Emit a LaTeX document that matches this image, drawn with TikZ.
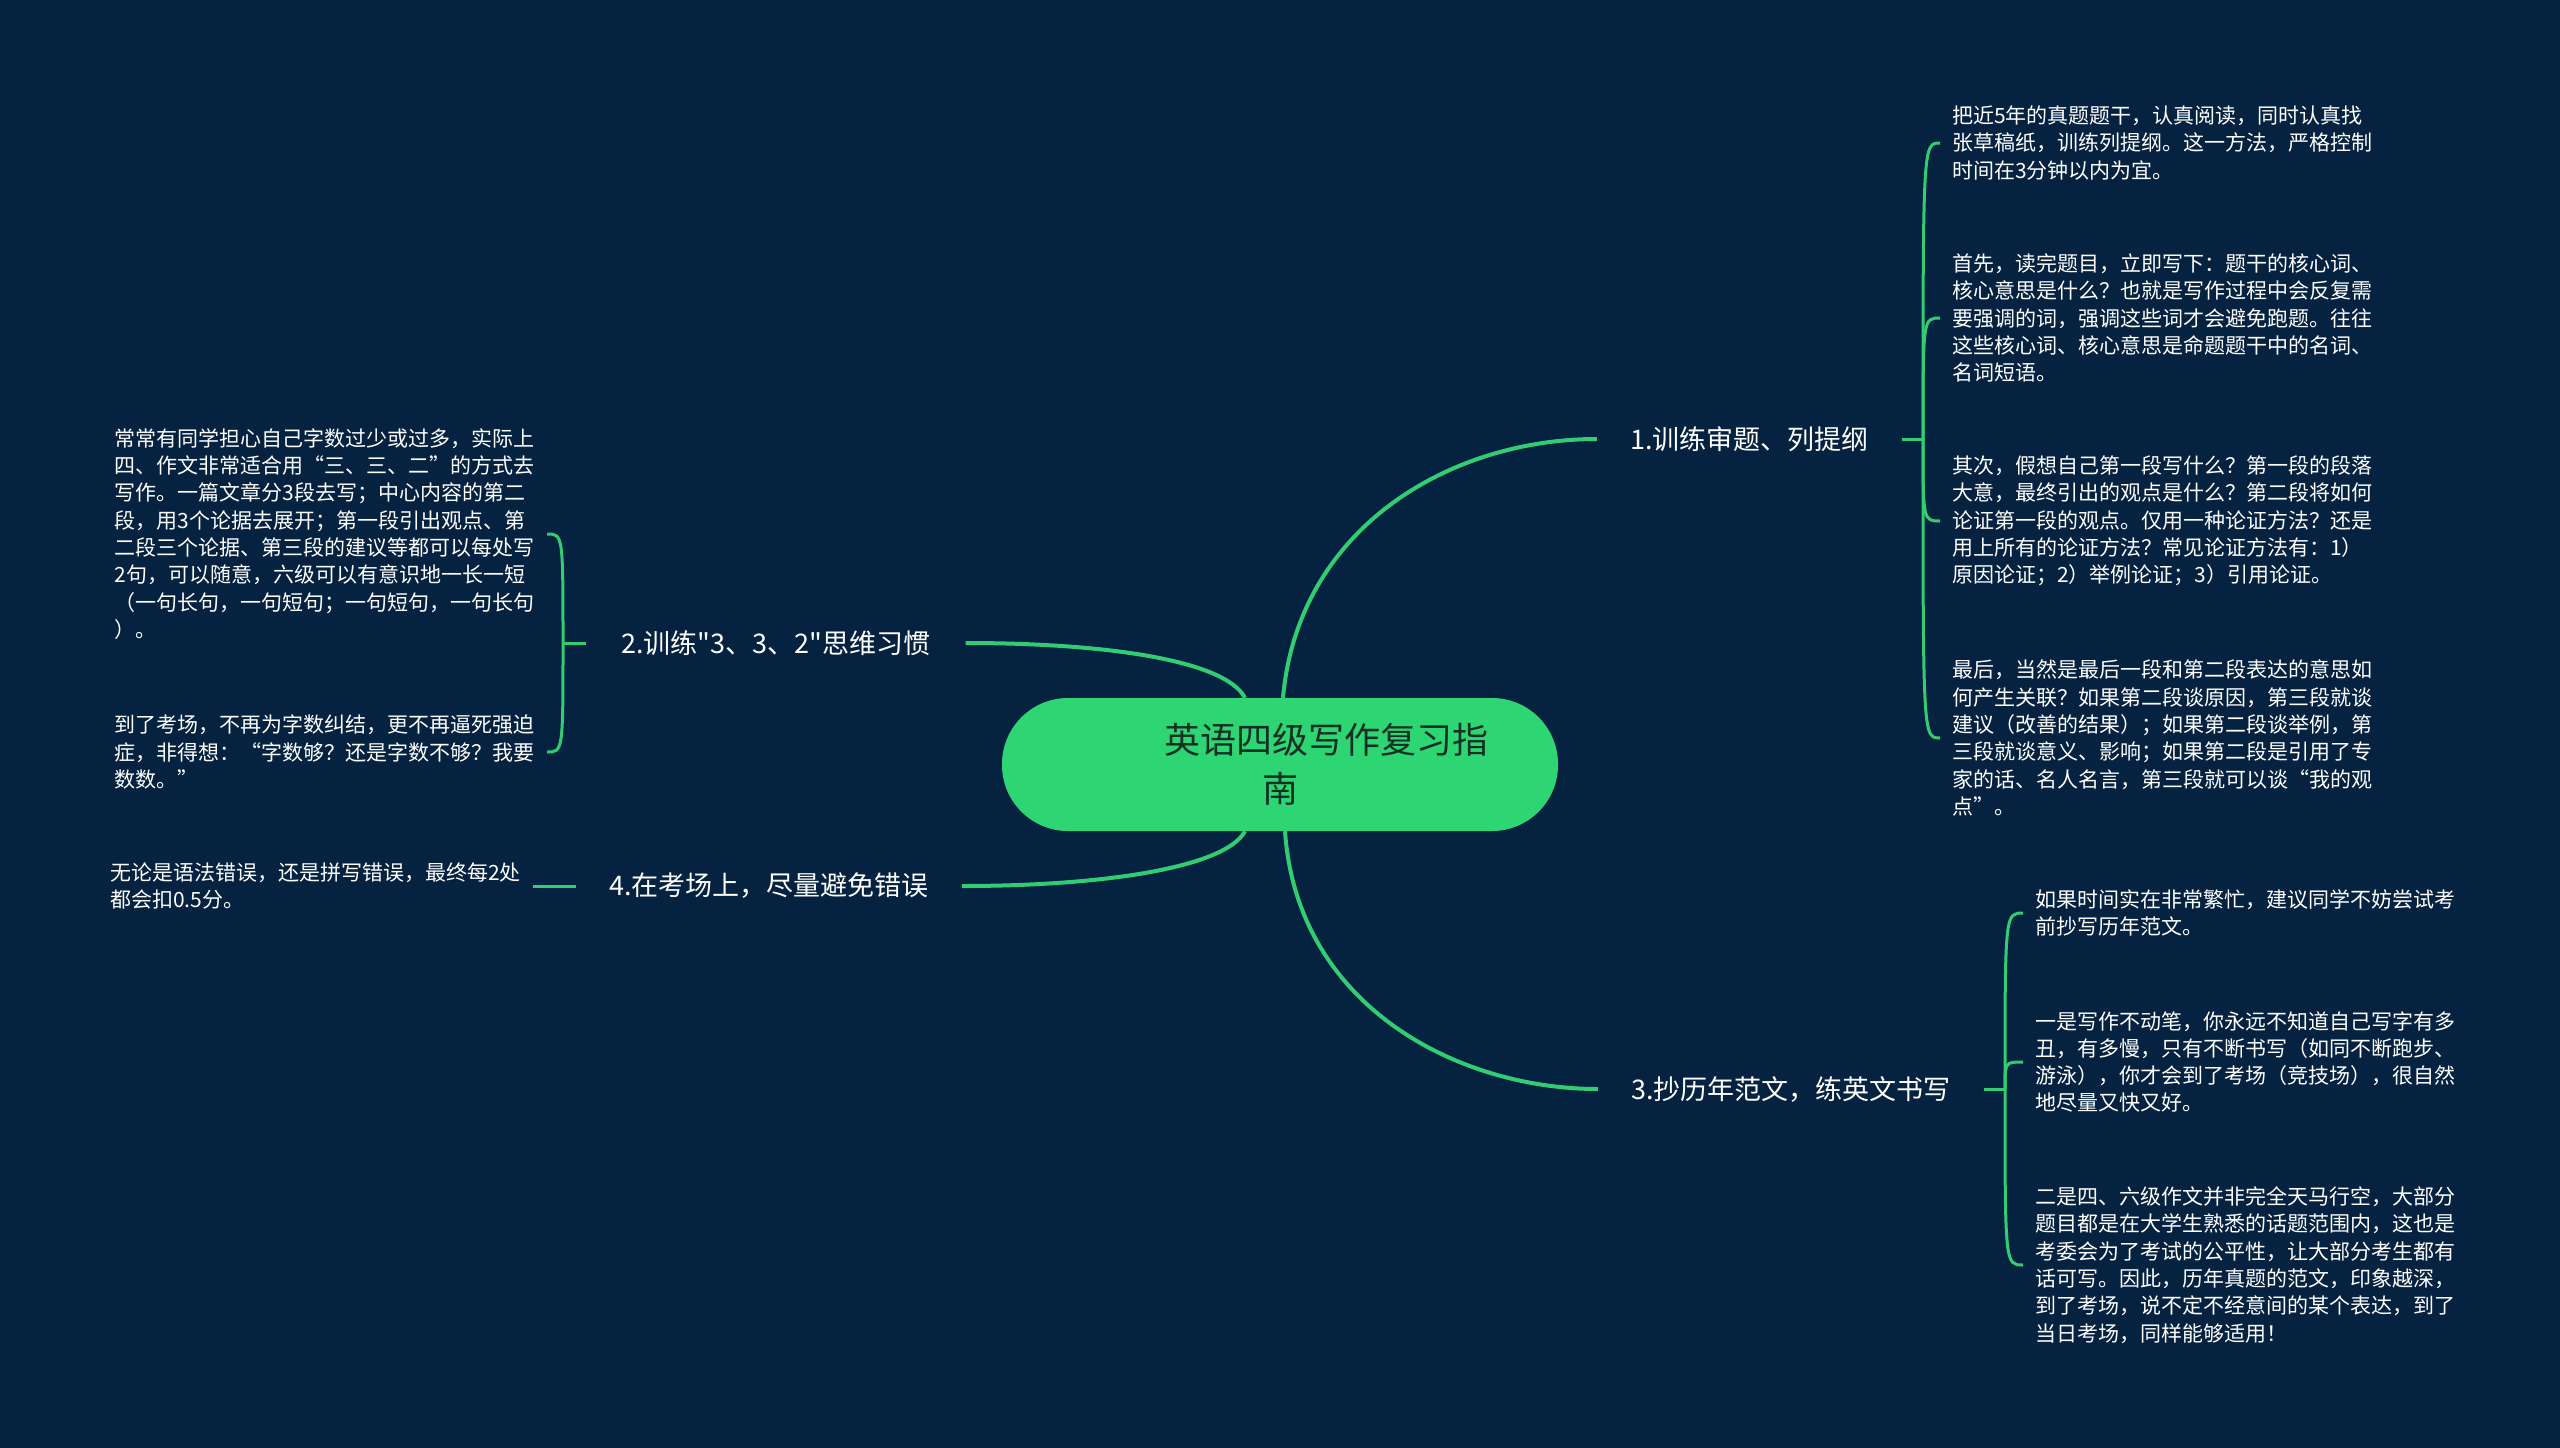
\documentclass[tikz,border=0pt]{standalone}
\usepackage{fontspec}
\setmainfont{Noto Sans CJK SC}
\newfontfamily\plainfont{Noto Sans CJK SC}
\definecolor{bgc}{RGB}{5,34,64}
\definecolor{grn}{RGB}{46,213,115}
\definecolor{lnc}{RGB}{50,205,115}
\definecolor{rtxt}{RGB}{20,48,36}
\begin{document}
\begin{tikzpicture}[x=1pt,y=-1pt,
  rootbox/.style={draw=none,fill=grn,rounded corners=66pt,minimum width=556pt,minimum height=133pt,
    inner xsep=0pt,inner ysep=0pt,text width=556pt,align=left,text=rtxt,font=\fontsize{36}{49}\selectfont},
  lab/.style={inner sep=0pt,text=white,font=\fontsize{27}{33}\selectfont},
  leaf/.style={inner xsep=12pt,inner ysep=0pt,text=white,align=left,font=\fontsize{21}{27.3}\selectfont},
  mainln/.style={draw=lnc,line width=4pt},
  subln/.style={draw=lnc,line width=3pt}]
\fill[bgc] (0,0) rectangle (2560,1448);
\useasboundingbox (0,0) rectangle (2560,1448);

\node[rootbox] (root) at (1280,764.5) {\hspace*{162pt}英语四级写作复习指\\\hspace*{260pt}南};

\node[lab,minimum width=305pt] (b1) at (1749.5,439) {1.训练审题、列提纲};
\node[lab,minimum width=379pt] (b2) at (776,643) {\plainfont 2.训练"3、3、2"思维习惯};
\node[lab,minimum width=386pt] (b3) at (1791,1089) {3.抄历年范文，练英文书写};
\node[lab,minimum width=386pt] (b4) at (769,886) {4.在考场上，尽量避免错误};

\draw[mainln] ([xshift=3pt]root.north) .. controls +(15,-170) and +(-147,0) .. (b1.west);
\draw[mainln] ([xshift=-35pt]root.north) .. controls +(-20,-38) and +(138,0) .. (b2.east);
\draw[mainln] ([xshift=5pt]root.south) .. controls +(12,175) and +(-140,0) .. (b3.west);
\draw[mainln] ([xshift=-35pt]root.south) .. controls +(-20,37) and +(138,0) .. (b4.east);

\coordinate (j1) at (1923,439);
\coordinate (j2) at (563,643);
\coordinate (j3) at (2005,1089);
\draw[subln] (b1.east) -- (j1);
\draw[subln] (b2.west) -- (j2);
\draw[subln] (b3.east) -- (j3);

\node[leaf,anchor=west] (c1a) at (1940,143) {把近5年的真题题干，认真阅读，同时认真找\\张草稿纸，训练列提纲。这一方法，严格控制\\时间在3分钟以内为宜。};
\node[leaf,anchor=west] (c1b) at (1940,318) {首先，读完题目，立即写下：题干的核心词、\\核心意思是什么？也就是写作过程中会反复需\\要强调的词，强调这些词才会避免跑题。往往\\这些核心词、核心意思是命题题干中的名词、\\名词短语。};
\node[leaf,anchor=west] (c1c) at (1940,521) {其次，假想自己第一段写什么？第一段的段落\\大意，最终引出的观点是什么？第二段将如何\\论证第一段的观点。仅用一种论证方法？还是\\用上所有的论证方法？常见论证方法有：1）\\原因论证；2）举例论证；3）引用论证。};
\node[leaf,anchor=west] (c1d) at (1940,738) {最后，当然是最后一段和第二段表达的意思如\\何产生关联？如果第二段谈原因，第三段就谈\\建议（改善的结果）；如果第二段谈举例，第\\三段就谈意义、影响；如果第二段是引用了专\\家的话、名人名言，第三段就可以谈“我的观\\点”。};

\node[leaf,anchor=east] (c2a) at (547,534) {常常有同学担心自己字数过少或过多，实际上\\四、作文非常适合用“三、三、二”的方式去\\写作。一篇文章分3段去写；中心内容的第二\\段，用3个论据去展开；第一段引出观点、第\\二段三个论据、第三段的建议等都可以每处写\\2句，可以随意，六级可以有意识地一长一短\\（一句长句，一句短句；一句短句，一句长句\\）。};
\node[leaf,anchor=east] (c2b) at (547,752) {到了考场，不再为字数纠结，更不再逼死强迫\\症，非得想：“字数够？还是字数不够？我要\\数数。”};

\node[leaf,anchor=east] (c4a) at (533,886) {无论是语法错误，还是拼写错误，最终每2处\\都会扣0.5分。};

\node[leaf,anchor=west] (c3a) at (2023,913) {如果时间实在非常繁忙，建议同学不妨尝试考\\前抄写历年范文。};
\node[leaf,anchor=west] (c3b) at (2023,1062) {一是写作不动笔，你永远不知道自己写字有多\\丑，有多慢，只有不断书写（如同不断跑步、\\游泳），你才会到了考场（竞技场），很自然\\地尽量又快又好。};
\node[leaf,anchor=west] (c3c) at (2023,1265) {二是四、六级作文并非完全天马行空，大部分\\题目都是在大学生熟悉的话题范围内，这也是\\考委会为了考试的公平性，让大部分考生都有\\话可写。因此，历年真题的范文，印象越深，\\到了考场，说不定不经意间的某个表达，到了\\当日考场，同样能够适用！};

\foreach \c in {c1a,c1b,c1c,c1d}{\draw[subln] (j1) .. controls (j1 |- \c.west) .. (\c.west);}
\foreach \c in {c3a,c3b,c3c}{\draw[subln] (j3) .. controls (j3 |- \c.west) .. (\c.west);}
\foreach \c in {c2a,c2b}{\draw[subln] (j2) .. controls (j2 |- \c.east) .. (\c.east);}
\draw[subln] (b4.west) -- (c4a.east);
\end{tikzpicture}
\end{document}
